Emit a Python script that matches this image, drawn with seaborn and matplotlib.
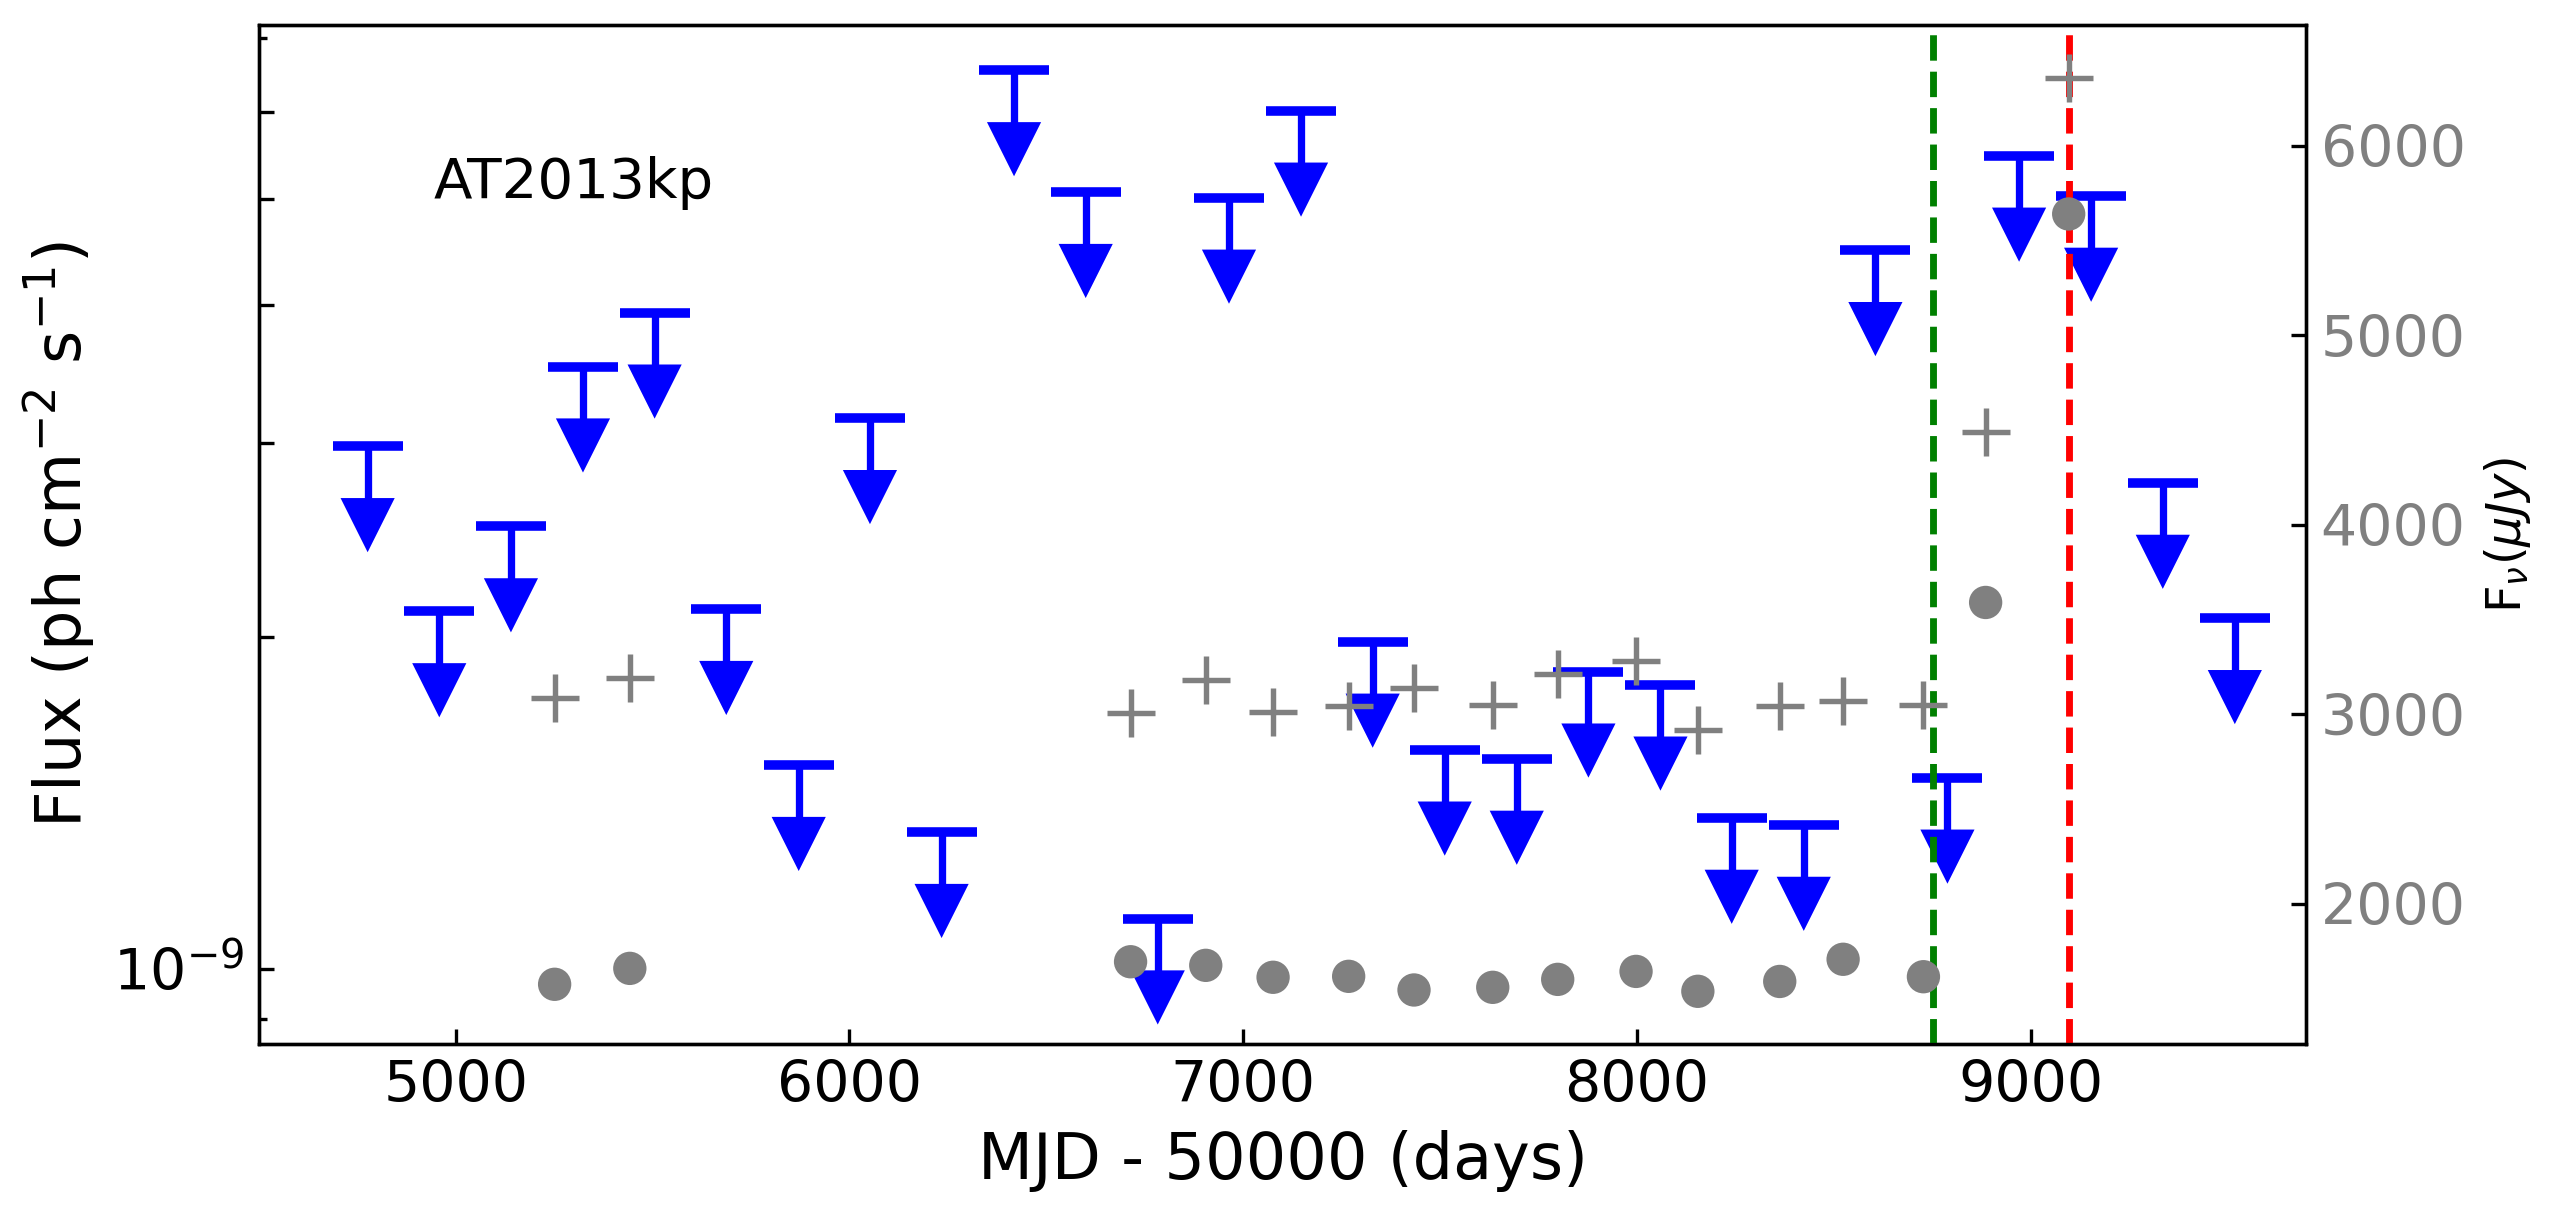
import matplotlib

matplotlib.use("Agg")

import matplotlib.pyplot as plt
import pandas as pd
import seaborn as sns
from matplotlib.ticker import FixedLocator, FuncFormatter, NullFormatter

# gamma-ray upper limits (ph cm^-2 s^-1)
ul_mjd = [4776, 4958, 5140, 5323, 5505, 5687, 5871, 6052, 6234, 6418, 6600, 6783, 6964, 7147,
          7329, 7512, 7695, 7877, 8060, 8241, 8424, 8606, 8789, 8971, 9154, 9336, 9519]
ul_flux = [2.98e-9, 2.11e-9, 2.52e-9, 3.52e-9, 3.94e-9, 2.12e-9, 1.53e-9, 3.16e-9, 1.33e-9,
           6.54e-9, 5.07e-9, 1.11e-9, 5.01e-9, 6.01e-9, 1.98e-9, 1.58e-9, 1.55e-9, 1.86e-9,
           1.81e-9, 1.37e-9, 1.35e-9, 4.49e-9, 1.49e-9, 5.47e-9, 5.03e-9, 2.76e-9, 2.08e-9]

# optical / IR flux density (uJy)
opt_mjd = [5251, 5442, 6714, 6905, 7076, 7268, 7434, 7634, 7799, 7998, 8155, 8363, 8524, 8728, 8886, 9097]
plus_flux = [3085, 3189, 3005, 3179, 3013, 3042, 3137, 3050, 3214, 3279, 2917, 3045, 3070, 3050, 4488, 6356]
dot_flux = [1575, 1659, 1694, 1675, 1612, 1617, 1545, 1559, 1601, 1643, 1538, 1590, 1707, 1615, 3590, 5640]

green_mjd = 8753
red_mjd = 9097

y_ticks = [1e-9, 2e-9, 3e-9, 4e-9, 5e-9, 6e-9]
y_minor = [9e-10, 7e-9]

ul = pd.DataFrame({"mjd": ul_mjd, "flux": ul_flux})
ul["head"] = ul["flux"] * 0.848
opt = pd.DataFrame({"mjd": opt_mjd, "plus": plus_flux, "dot": dot_flux})

fig = plt.figure(figsize=(2549 / 300, 1210 / 300), dpi=300)
ax = fig.add_axes([0.1016, 0.1372, 0.8031, 0.8421])
ax.set_yscale("log")

ax.vlines(ul["mjd"], ul["head"], ul["flux"], color="blue", lw=1.75, zorder=2)
sns.scatterplot(data=ul, x="mjd", y="flux", marker="_", s=17 ** 2, color="blue",
                linewidth=2.3, ax=ax, zorder=2.1)
sns.scatterplot(data=ul, x="mjd", y="head", marker="v", s=13 ** 2, color="blue",
                edgecolor="none", linewidth=0, ax=ax, zorder=2.1)
ax.axvline(green_mjd, color="green", ls="--", lw=1.65, zorder=3)
ax.axvline(red_mjd, color="red", ls="--", lw=1.65, zorder=3)

ax.text(4944, 5.01e-9, "AT2013kp", fontsize=13.5, va="baseline")

ax.set_xlim(4500, 9700)
ax.set_ylim(8.54e-10, 7.19e-9)
ax.yaxis.set_major_locator(FixedLocator(y_ticks))
ax.yaxis.set_minor_locator(FixedLocator(y_minor))
ax.yaxis.set_major_formatter(FuncFormatter(lambda v, p: r"$10^{-9}$" if abs(v - 1e-9) < 1e-12 else ""))
ax.yaxis.set_minor_formatter(NullFormatter())
ax.tick_params(axis="both", which="both", direction="in", labelsize=13.7)
ax.tick_params(axis="y", which="minor", width=0.8)
ax.set_xlabel("MJD - 50000 (days)", fontsize=15.3)
ax.set_ylabel(r"Flux (ph cm$^{-2}$ s$^{-1}$)", fontsize=15.3)

ax2 = ax.twinx()
sns.scatterplot(data=opt, x="mjd", y="plus", marker="+", s=11.3 ** 2, color="gray",
                linewidth=1.3, ax=ax2)
sns.scatterplot(data=opt, x="mjd", y="dot", marker="o", s=8 ** 2, color="gray",
                edgecolor="none", linewidth=0, ax=ax2)
ax2.set_ylim(1260, 6637)
ax2.set_xlim(4500, 9700)
ax2.tick_params(axis="y", direction="in", labelsize=13.7, labelcolor="gray")
ax2.set_xlabel("")
ax2.set_ylabel(r"F$_{\nu}$($\mu Jy$)", fontsize=11.5)

fig.savefig("out.png", dpi=300)
